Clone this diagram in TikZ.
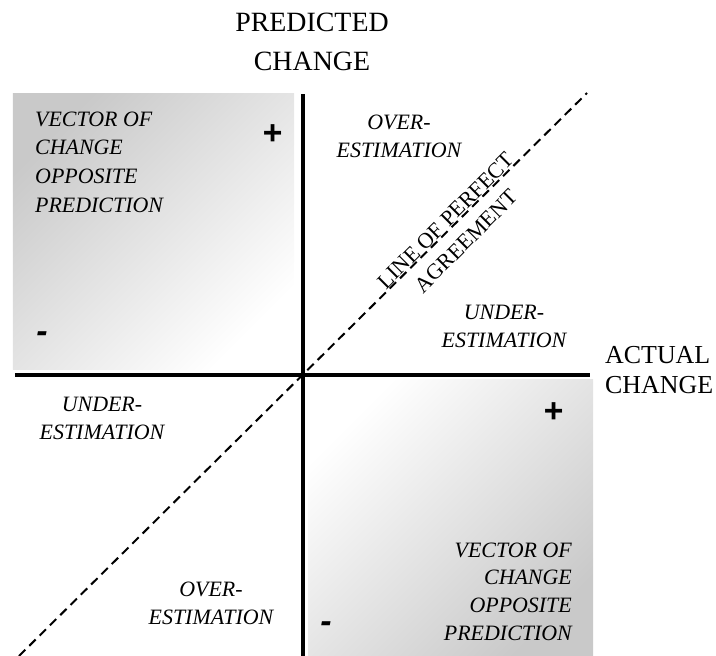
\documentclass[tikz,border=0pt]{standalone}
\usepackage{fontspec}
\setmainfont{Liberation Serif}
\setsansfont{Liberation Sans}
\usepackage{tikz}
\usetikzlibrary{backgrounds}

\tikzset{
	axis/.style={line width=4bp},
	agree/.style={line width=2bp, dash pattern=on 9bp off 5.5bp},
	region/.style={inner sep=0pt, font=\fontsize{22}{28}\selectfont\itshape},
	sign/.style={inner sep=0pt, font=\fontsize{34}{34}\selectfont\sffamily\bfseries\itshape},
	heading/.style={inner sep=0pt, align=center, font=\fontsize{28}{38.5}\selectfont},
}

\begin{document}
\begin{tikzpicture}[x=1bp,y=1bp]
	% frame of the picture
	\useasboundingbox (-303,-281) rectangle (413,375);

	% shaded quadrants
	\shade[top color=gray!42, middle color=gray!10, bottom color=white, shading angle=45] (-290,5) rectangle (-9,281);
	\shade[top color=white, middle color=gray!10, bottom color=gray!42, shading angle=45] (5,-281) rectangle (290,-5);

	% axes
	\coordinate (O) at (0,0);
	\coordinate (xl) at (-288,0);
	\coordinate (xr) at (287,0);
	\coordinate (yb) at (0,-281);
	\coordinate (yt) at (0,281);
	\draw[axis] (xl) -- (xr);
	\draw[axis] (yb) -- (yt);

	% line of perfect agreement
	\coordinate (dl) at (-284,-281);
	\coordinate (dh) at (284,282);
	\draw[agree] (dl) -- (dh);
	\node[rotate=45, inner sep=0pt, align=center, font=\fontsize{22}{29}\selectfont] (perfect) at (153,144) {LINE OF PERFECT\\AGREEMENT};

	% axis titles
	\node[heading] (predicted) at (9,333) {PREDICTED\\CHANGE};
	\node[heading, anchor=west, align=left, font=\fontsize{26}{30}\selectfont] (actual) at (302,5) {ACTUAL\\CHANGE};

	% quadrant texts
	\node[region, anchor=west, align=left, font=\fontsize{22}{28.7}\selectfont\itshape] (oppup) at (-268,213) {VECTOR OF\\CHANGE\\OPPOSITE\\PREDICTION};
	\node[region, anchor=east, align=right, font=\fontsize{22}{27.7}\selectfont\itshape] (oppdown) at (269,-216.5) {VECTOR OF\\CHANGE\\OPPOSITE\\PREDICTION};
	\node[region, align=center] (overup) at (96,239) {OVER-\\ESTIMATION};
	\node[region, align=center] (underup) at (201,49) {UNDER-\\ESTIMATION};
	\node[region, align=center] (underdown) at (-201,-43.5) {UNDER-\\ESTIMATION};
	\node[region, align=center] (overdown) at (-92,-228.5) {OVER-\\ESTIMATION};

	% signs
	\node[sign] (plusup) at (-31,240) {+};
	\node[sign] (minusup) at (-261,38) {-};
	\node[sign] (plusdown) at (250,-38) {+};
	\node[sign] (minusdown) at (23,-252) {-};
\end{tikzpicture}
\end{document}
